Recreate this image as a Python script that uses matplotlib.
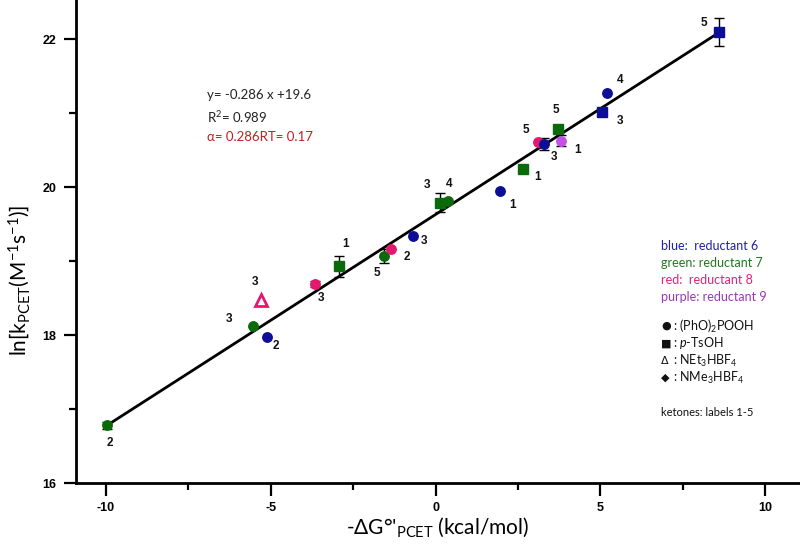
import numpy as np
import matplotlib.pyplot as plt

plt.rcParams['font.family'] = ['Lato', 'DejaVu Sans']
plt.rcParams['mathtext.fontset'] = 'custom'
plt.rcParams['mathtext.rm'] = 'Lato'
plt.rcParams['mathtext.it'] = 'Lato:italic'
plt.rcParams['mathtext.bf'] = 'Lato:bold'

# data
dg = [-9.98, -5.55, -5.12, -5.30, -3.66, -2.92, -1.55, -1.35, -0.67, 0.14,
      0.39, 1.96, 2.65, 3.12, 3.29, 3.81, 3.71, 5.04, 5.20, 8.60]
lnk = [16.78, 18.12, 17.97, 18.47, 18.69, 18.93, 19.07, 19.16, 19.34, 19.79,
       19.81, 19.95, 20.24, 20.61, 20.58, 20.63, 20.78, 21.02, 21.27, 22.10]
lnk_err = [0.05, 0, 0, 0, 0.04, 0.14, 0.10, 0, 0, 0.13,
           0, 0, 0, 0, 0.08, 0.07, 0, 0, 0, 0.19]
reductant = [7, 7, 6, 8, 8, 7, 7, 8, 6, 7, 7, 6, 7, 8, 6, 9, 7, 6, 6, 6]
acid = ['phos', 'phos', 'phos', 'net3', 'phos', 'tsoh', 'phos', 'phos', 'phos', 'tsoh',
        'phos', 'phos', 'tsoh', 'phos', 'phos', 'phos', 'tsoh', 'tsoh', 'phos', 'tsoh']
ketone = ['2', '3', '2', '3', '3', '1', '5', '2', '3', '3',
          '4', '1', '1', '5', '3', '1', '5', '3', '4', '5']

slope = 0.286
intercept = 19.63

xticks = [-10, -5, 0, 5, 10]
xticklabels = ['-10', '-5', '0', '5', '10']
yticks = [16, 18, 20, 22]
yticklabels = ['16', '18', '20', '22']

# label offsets in pixels (right, down) from each point
label_offsets = [(3, 18), (-24, -7), (9, 9), (-6, -18), (6, 14), (6, -22), (-8, 17),
                 (16, 8), (11, 5), (-13, -18), (1, -17), (12, 14), (15, 8), (-12, -12),
                 (10, 13), (16, 9), (-2, -19), (18, 9), (13, -13), (-15, -9)]

colours = {6: '#0d0d98', 7: '#0b6b0b', 8: '#e3186f', 9: '#c452e4'}
markers = {'phos': 'o', 'tsoh': 's', 'net3': '^'}

fig = plt.figure(figsize=(8, 5.46), dpi=100)
ax = fig.add_axes([76 / 800, 63 / 546, 724 / 800, 483 / 546])

# fit line
fit_x = np.array([min(dg), max(dg)])
ax.plot(fit_x, slope * fit_x + intercept, color='black', lw=2, zorder=1)

# error bars
for x, y, e in zip(dg, lnk, lnk_err):
    if e > 0:
        ax.errorbar(x, y, yerr=e, fmt='none', ecolor='black', elinewidth=1,
                    capsize=3.5, capthick=1, zorder=2)

# points and labels
for i, (x, y) in enumerate(zip(dg, lnk)):
    c = colours[reductant[i]]
    m = markers[acid[i]]
    if m == '^':
        ax.plot(x, y, marker='^', ms=8, mfc='white', mec=c, mew=2, zorder=3)
    elif m == 's':
        ax.plot(x, y, marker='s', ms=7.5 if x > 8 else 6.8, mfc=c, mec=c, zorder=3)
    else:
        ax.plot(x, y, marker='o', ms=6.8, mfc=c, mec=c, zorder=3)
    dx, dy = label_offsets[i]
    ax.annotate(ketone[i], (x, y), xytext=(dx * 0.72, -dy * 0.72), textcoords='offset points',
                ha='center', va='center', fontsize=8.5, fontfamily='Liberation Sans',
                fontweight='bold', color='#111111')

ax.set_xlim(-10.91, 11.06)
ax.set_ylim(16, 22.53)

for s in ['top', 'right']:
    ax.spines[s].set_visible(False)
for s in ['left', 'bottom']:
    ax.spines[s].set_linewidth(2)

ax.set_xticks(xticks, labels=xticklabels, fontfamily='Liberation Sans',
              fontweight='bold', fontsize=9)
ax.set_yticks(yticks, labels=yticklabels, fontfamily='Liberation Sans',
              fontweight='bold', fontsize=9)
ax.set_xticks([-7.5, -2.5, 2.5, 7.5], minor=True)
ax.set_yticks([17, 19, 21], minor=True)
ax.tick_params(which='major', direction='out', length=9, width=1.6, pad=5)
ax.tick_params(which='minor', direction='out', length=5, width=1.6)

ax.set_xlabel("-ΔG°'$_{\\mathrm{PCET}}$ (kcal/mol)", fontsize=15)
ax.xaxis.set_label_coords(0.499, -0.068)
ax.set_ylabel("ln[k$_{\\mathrm{PCET}}$(M$^{\\mathrm{-1}}$s$^{\\mathrm{-1}}$)]", fontsize=15)
ax.yaxis.set_label_coords(-0.061, 0.42)

# fit annotation
ax.text(-6.93, 21.24, 'y= -0.286 x +19.6', fontsize=9.5, va='center', color='#222222')
ax.text(-6.93, 20.95, 'R$^{\\mathrm{2}}$= 0.989', fontsize=9.5, va='center', color='#222222')
ax.text(-6.93, 20.68, 'α= 0.286RT= 0.17', fontsize=9.5, va='center', color='#c0201e')

# key
key_x = 6.84
ax.text(key_x, 16 + (483 - 246) / 74, 'blue:  reductant 6', fontsize=9, va='center', color='#2020a6')
ax.text(key_x, 16 + (483 - 263) / 74, 'green: reductant 7', fontsize=9, va='center', color='#1c7a1c')
ax.text(key_x, 16 + (483 - 280) / 74, 'red:  reductant 8', fontsize=9, va='center', color='#e3207a')
ax.text(key_x, 16 + (483 - 297) / 74, 'purple: reductant 9', fontsize=9, va='center', color='#9c36bc')

key_symbols = ['●', '■', 'Δ', '◆']
key_names = ['(PhO)$_{\\mathrm{2}}$POOH', '$p$-TsOH',
             'NEt$_{\\mathrm{3}}$HBF$_{\\mathrm{4}}$', 'NMe$_{\\mathrm{3}}$HBF$_{\\mathrm{4}}$']
for j, (sym, name) in enumerate(zip(key_symbols, key_names)):
    ky = 16 + (483 - (326 + 17.3 * j)) / 74
    ax.text(key_x, ky, sym, fontsize=8, va='center', color='#111111', fontfamily='DejaVu Sans')
    ax.text(key_x + 0.36, ky, ': ' + name, fontsize=9, va='center', color='#111111')
ax.text(key_x, 16 + (483 - 412) / 74, 'ketones: labels 1-5', fontsize=8, va='center', color='#111111')

fig.savefig('out.png', dpi=100)
